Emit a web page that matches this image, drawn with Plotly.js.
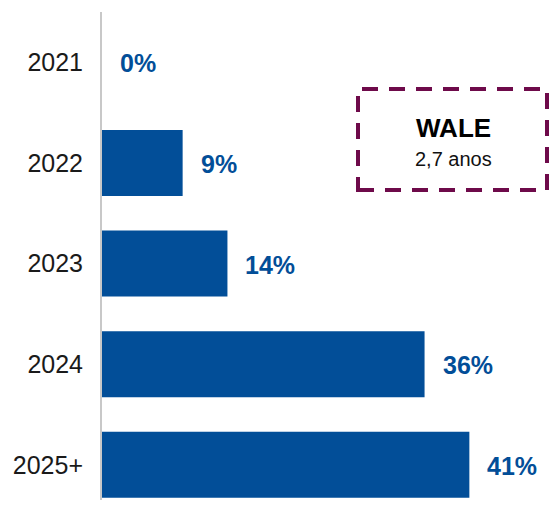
<!DOCTYPE html>
<html>
<head>
<meta charset="utf-8">
<script src="https://cdn.plot.ly/plotly-3.0.1.min.js"></script>
<style>html,body{margin:0;padding:0;background:#fff;}#chart{width:550px;height:506px;}</style>
</head>
<body>
<div id="chart"></div>
<script>
const years = ["2021", "2022", "2023", "2024", "2025+"];
const shares = [0, 9, 14, 36, 41];
const boxTitle = "WALE";
const boxValue = "2,7 anos";

const blue = "#024E98";
const maroon = "#6E0A4A";

const trace = {
  type: "bar",
  orientation: "h",
  y: years,
  x: shares,
  marker: {color: blue},
  width: 0.656,
  hoverinfo: "none"
};

const labels = years.map((y, i) => ({
  x: shares[i], y: i, xref: "x", yref: "y",
  text: shares[i] + "%",
  showarrow: false, xanchor: "left", xshift: 16, yshift: -1,
  font: {family: "Liberation Sans, Arial, sans-serif", size: 25, color: blue, weight: "bold"}
}));

labels.push({
  xref: "paper", yref: "paper", x: (453 - 102) / 448, y: 1 - (128 - 12) / 488,
  text: "<b>" + boxTitle + "</b>", showarrow: false, xanchor: "center", yanchor: "middle",
  font: {family: "Liberation Sans, Arial, sans-serif", size: 26, color: "#000"}
});
labels.push({
  xref: "paper", yref: "paper", x: (453 - 102) / 448, y: 1 - (159 - 12) / 488,
  text: boxValue, showarrow: false, xanchor: "center", yanchor: "middle",
  font: {family: "Liberation Sans, Arial, sans-serif", size: 20, color: "#111"}
});

const layout = {
  width: 550, height: 506,
  margin: {l: 102, r: 0, t: 12, b: 6},
  paper_bgcolor: "#fff", plot_bgcolor: "#fff",
  showlegend: false,
  xaxis: {range: [0, 50], visible: false, fixedrange: true},
  yaxis: {
    type: "category",
    range: [4.35, -0.5],
    showline: true, linecolor: "#c8c8c8", linewidth: 2,
    showgrid: false, zeroline: false,
    ticks: "", ticklabelstandoff: 12,
    tickfont: {family: "Liberation Sans, Arial, sans-serif", size: 25, color: "#1a1a1a"},
    fixedrange: true
  },
  shapes: [{
    type: "rect", xref: "paper", yref: "paper",
    x0: (358 - 102) / 448, x1: (547 - 102) / 448,
    y0: 1 - (190 - 12) / 488, y1: 1 - (89 - 12) / 488,
    line: {color: maroon, width: 4, dash: "16px,11px"},
    fillcolor: "rgba(0,0,0,0)"
  }],
  annotations: labels
};

Plotly.newPlot("chart", [trace], layout, {displayModeBar: false, staticPlot: true});
</script>
</body>
</html>
